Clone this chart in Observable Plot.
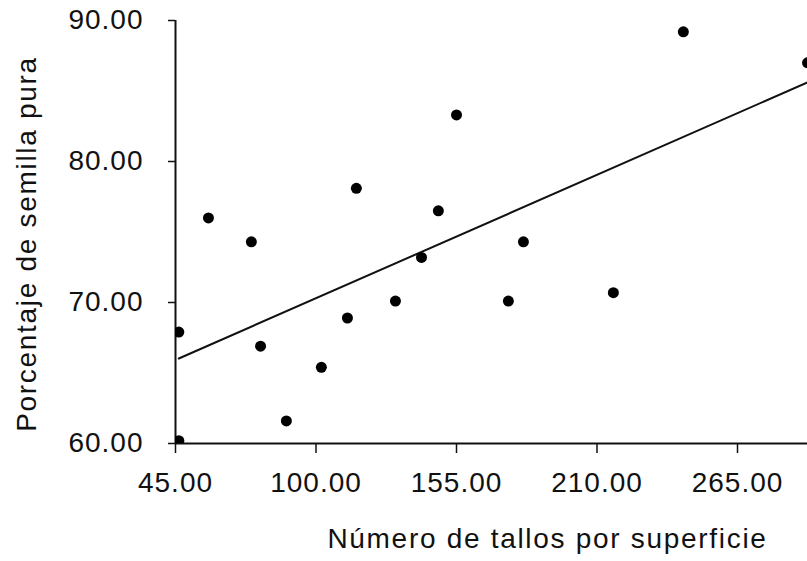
<!DOCTYPE html>
<html>
<head>
<meta charset="utf-8">
<script src="https://cdn.jsdelivr.net/npm/d3@7"></script>
<script src="https://cdn.jsdelivr.net/npm/@observablehq/plot@0.6"></script>
<style>
  html, body { margin: 0; padding: 0; background: #fff; }
  #chart svg { display: block; }
  #chart g[aria-label="x-axis tick label"] text,
  #chart g[aria-label="y-axis tick label"] text { letter-spacing: 1px; }
  #chart g[aria-label="text"] text { letter-spacing: 1.7px; }
</style>
</head>
<body>
<div id="chart"></div>
<script>
// Stems per unit area (x) and pure seed percentage (y), one entry per plot
const stems   = [46.3, 46.3, 57.9, 74.7, 78.3, 88.4, 102.1, 112.3, 115.8, 131.1, 141.3, 147.9, 155.0, 175.3, 181.2, 216.4, 243.8, 292.4];
const purity  = [67.9, 60.2, 76.0, 74.3, 66.9, 61.6, 65.4, 68.9, 78.1, 70.1, 73.2, 76.5, 83.3, 70.1, 74.3, 70.7, 89.2, 87.0];

const xTicks = [45, 100, 155, 210, 265];
const yTicks = [60, 70, 80, 90];
const xTitle = "Número de tallos por superficie";
const yTitle = "Porcentaje de semilla pura";

const rows = stems.map((s, i) => ({stems: s, purity: purity[i]}));
const fmt = d3.format(".2f");

const chart = Plot.plot({
  width: 807,
  height: 561,
  marginLeft: 175,
  marginRight: 0,
  marginTop: 20,
  marginBottom: 118,
  style: {
    fontFamily: "'Liberation Sans', Arial, sans-serif",
    fontSize: "28px",
    background: "#fff",
    color: "#111"
  },
  x: {domain: [45, 292.4]},
  y: {domain: [60, 90]},
  marks: [
    Plot.axisX({ticks: xTicks, tickFormat: fmt, tickSize: 10, tickPadding: 19, label: null, strokeWidth: 1.5}),
    Plot.axisY({ticks: yTicks, tickFormat: fmt, tickSize: 7, tickPadding: 25, label: null, strokeWidth: 1.5}),
    Plot.ruleX([45], {stroke: "#111", strokeWidth: 2}),
    Plot.ruleY([60], {stroke: "#111", strokeWidth: 2}),
    Plot.linearRegressionY(rows, {x: "stems", y: "purity", ci: 0, stroke: "#111", strokeWidth: 2, clip: true}),
    Plot.dot(rows, {x: "stems", y: "purity", r: 5.5, fill: "#000", stroke: null, clip: true}),
    Plot.text([xTitle], {frameAnchor: "bottom", textAnchor: "middle", lineAnchor: "middle", dx: 56, dy: 96, fill: "#111"}),
    Plot.text([yTitle], {frameAnchor: "left", textAnchor: "middle", rotate: -90, lineAnchor: "middle", dx: -148, dy: 12, fill: "#111"})
  ]
});

document.getElementById("chart").appendChild(chart);
</script>
</body>
</html>
